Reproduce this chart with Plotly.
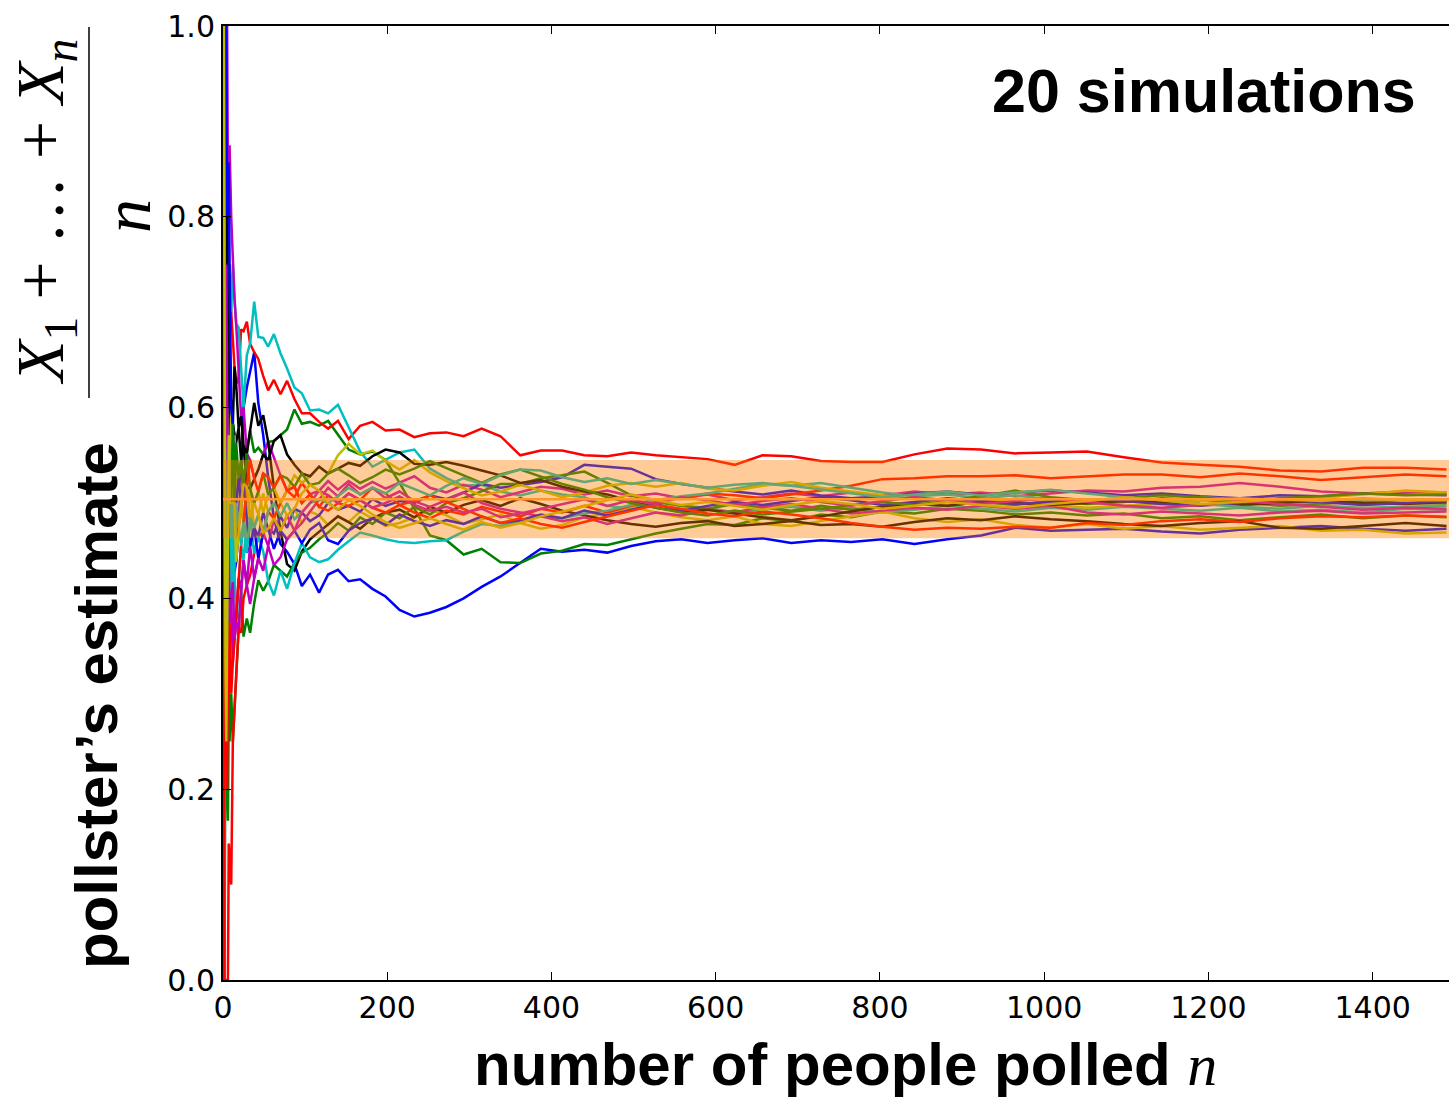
import plotly.graph_objects as go

# Sample sizes at which each running average is recorded
N = [1, 2, 3, 4, 5, 6, 7, 8, 10, 12,
     14, 16, 19, 22, 25, 29, 33, 38, 43, 49,
     55, 62, 70, 78, 87, 96, 106, 117, 128, 140,
     153, 167, 182, 198, 215, 233, 252, 272, 293, 315,
     338, 362, 387, 413, 440, 468, 497, 527, 558, 590,
     623, 657, 692, 728, 765, 803, 842, 882, 923, 965,
     1008, 1052, 1097, 1143, 1190, 1238, 1287, 1337, 1388, 1440,
     1490]

# Running estimate (X1 + ... + Xn) / n for each of the 20 simulated polls
sim_01 = [1.0, 1.0, 1.0, 0.75, 0.8, 0.833, 0.714, 0.625, 0.6, 0.5,
          0.5, 0.438, 0.474, 0.545, 0.6, 0.621, 0.636, 0.658, 0.605, 0.571,
          0.527, 0.484, 0.457, 0.449, 0.436, 0.413, 0.425, 0.406, 0.425, 0.430,
          0.418, 0.420, 0.410, 0.402, 0.388, 0.381, 0.385, 0.391, 0.400, 0.412,
          0.423, 0.437, 0.452, 0.449, 0.451, 0.448, 0.455, 0.460, 0.462, 0.458,
          0.461, 0.463, 0.458, 0.461, 0.459, 0.462, 0.457, 0.462, 0.466, 0.474,
          0.471, 0.472, 0.473, 0.470, 0.468, 0.472, 0.474, 0.476, 0.473, 0.471,
          0.473]
sim_02 = [0.0, 0.5, 0.667, 0.5, 0.6, 0.5, 0.571, 0.5, 0.5, 0.583,
          0.571, 0.5, 0.526, 0.545, 0.52, 0.552, 0.576, 0.553, 0.558, 0.551,
          0.564, 0.565, 0.571, 0.577, 0.598, 0.583, 0.585, 0.581, 0.586, 0.571,
          0.556, 0.551, 0.554, 0.545, 0.521, 0.494, 0.466, 0.461, 0.446, 0.452,
          0.438, 0.437, 0.447, 0.450, 0.457, 0.456, 0.462, 0.468, 0.473, 0.478,
          0.477, 0.484, 0.481, 0.488, 0.485, 0.491, 0.489, 0.494, 0.492, 0.488,
          0.490, 0.487, 0.489, 0.484, 0.486, 0.482, 0.485, 0.488, 0.484, 0.487,
          0.485]
sim_03 = [1.0, 1.0, 0.667, 0.75, 0.8, 0.667, 0.714, 0.75, 0.7, 0.667,
          0.643, 0.625, 0.632, 0.682, 0.68, 0.690, 0.667, 0.658, 0.651, 0.633,
          0.618, 0.629, 0.614, 0.628, 0.609, 0.594, 0.594, 0.585, 0.578, 0.586,
          0.567, 0.581, 0.585, 0.576, 0.577, 0.569, 0.573, 0.574, 0.570, 0.578,
          0.570, 0.550, 0.555, 0.555, 0.550, 0.549, 0.553, 0.550, 0.548, 0.546,
          0.540, 0.550, 0.549, 0.544, 0.543, 0.543, 0.551, 0.557, 0.556, 0.552,
          0.553, 0.554, 0.548, 0.5425, 0.540, 0.538, 0.534, 0.533, 0.537, 0.537,
          0.535]
sim_04 = [1.0, 1.0, 0.667, 0.75, 0.6, 0.667, 0.714, 0.75, 0.7, 0.75,
          0.714, 0.688, 0.684, 0.636, 0.6, 0.655, 0.667, 0.711, 0.674, 0.673,
          0.664, 0.677, 0.657, 0.641, 0.621, 0.615, 0.597, 0.598, 0.594, 0.603,
          0.580, 0.554, 0.538, 0.545, 0.553, 0.556, 0.536, 0.526, 0.518, 0.519,
          0.512, 0.508, 0.513, 0.509, 0.506, 0.497, 0.494, 0.502, 0.497, 0.495,
          0.490, 0.493, 0.496, 0.492, 0.495, 0.490, 0.493, 0.497, 0.494, 0.491,
          0.495, 0.493, 0.496, 0.494, 0.492, 0.495, 0.491, 0.493, 0.490, 0.494,
          0.493]
sim_05 = [1.0, 1.0, 1.0, 1.0, 1.0, 0.833, 0.857, 0.875, 0.8, 0.75,
          0.714, 0.688, 0.632, 0.591, 0.6, 0.552, 0.545, 0.526, 0.535, 0.551,
          0.564, 0.548, 0.529, 0.513, 0.517, 0.5, 0.509, 0.513, 0.523, 0.514,
          0.523, 0.515, 0.522, 0.515, 0.521, 0.528, 0.516, 0.511, 0.519, 0.514,
          0.506, 0.511, 0.517, 0.515, 0.509, 0.513, 0.507, 0.510, 0.505, 0.509,
          0.503, 0.506, 0.510, 0.507, 0.511, 0.508, 0.512, 0.509, 0.511, 0.507,
          0.510, 0.513, 0.512, 0.516, 0.517, 0.521, 0.517, 0.512, 0.510, 0.512,
          0.511]
sim_06 = [0.0, 0.5, 0.333, 0.25, 0.4, 0.333, 0.429, 0.375, 0.4, 0.417,
          0.429, 0.5, 0.474, 0.5, 0.52, 0.483, 0.515, 0.474, 0.488, 0.51,
          0.491, 0.484, 0.5, 0.487, 0.494, 0.479, 0.491, 0.487, 0.477, 0.486,
          0.48, 0.491, 0.484, 0.476, 0.479, 0.485, 0.493, 0.487, 0.478, 0.483,
          0.488, 0.479, 0.473, 0.477, 0.485, 0.489, 0.496, 0.49, 0.485, 0.482,
          0.486, 0.478, 0.476, 0.481, 0.486, 0.491, 0.484, 0.48, 0.483, 0.477,
          0.474, 0.478, 0.473, 0.476, 0.472, 0.474, 0.476, 0.471, 0.472, 0.468,
          0.469]
sim_07 = [1.0, 0.5, 0.667, 0.75, 0.8, 0.667, 0.571, 0.625, 0.6, 0.583,
          0.571, 0.563, 0.579, 0.545, 0.56, 0.552, 0.576, 0.605, 0.581, 0.592,
          0.564, 0.516, 0.471, 0.436, 0.429, 0.449, 0.462, 0.47, 0.477, 0.486,
          0.48, 0.473, 0.484, 0.49, 0.493, 0.485, 0.496, 0.49, 0.498, 0.503,
          0.497, 0.505, 0.499, 0.492, 0.487, 0.482, 0.478, 0.475, 0.479, 0.481,
          0.476, 0.478, 0.481, 0.477, 0.478, 0.475, 0.48, 0.484, 0.482, 0.486,
          0.483, 0.481, 0.478, 0.476, 0.479, 0.481, 0.474, 0.473, 0.476, 0.479,
          0.476]
sim_08 = [0.0, 0.5, 0.667, 0.5, 0.4, 0.5, 0.429, 0.5, 0.4, 0.417,
          0.429, 0.438, 0.474, 0.5, 0.48, 0.448, 0.455, 0.474, 0.465, 0.49,
          0.473, 0.468, 0.486, 0.474, 0.494, 0.49, 0.481, 0.487, 0.5, 0.493,
          0.497, 0.491, 0.504, 0.497, 0.502, 0.5, 0.508, 0.504, 0.511, 0.52,
          0.516, 0.519, 0.522, 0.527, 0.54, 0.538, 0.536, 0.525, 0.52, 0.516,
          0.512, 0.509, 0.513, 0.508, 0.505, 0.507, 0.51, 0.512, 0.509, 0.511,
          0.513, 0.511, 0.508, 0.51, 0.507, 0.505, 0.508, 0.507, 0.51, 0.509,
          0.508]
sim_09 = [0.0, 0.0, 0.333, 0.25, 0.2, 0.167, 0.286, 0.25, 0.3, 0.25,
          0.286, 0.313, 0.368, 0.409, 0.36, 0.379, 0.364, 0.395, 0.419, 0.408,
          0.418, 0.435, 0.429, 0.423, 0.437, 0.448, 0.453, 0.462, 0.469, 0.479,
          0.471, 0.485, 0.478, 0.49, 0.484, 0.496, 0.488, 0.5, 0.505, 0.512,
          0.52, 0.52, 0.526, 0.529, 0.533, 0.521, 0.508, 0.501, 0.497, 0.494,
          0.499, 0.495, 0.492, 0.497, 0.493, 0.496, 0.5, 0.497, 0.501, 0.498,
          0.502, 0.499, 0.501, 0.505, 0.503, 0.501, 0.497, 0.499, 0.502, 0.5,
          0.4995]
sim_10 = [0.0, 0.0, 0.0, 0.0, 0.0, 0.0, 0.143, 0.125, 0.1, 0.25,
          0.286, 0.313, 0.368, 0.364, 0.4, 0.414, 0.424, 0.447, 0.465, 0.469,
          0.491, 0.484, 0.5, 0.513, 0.506, 0.521, 0.509, 0.496, 0.508, 0.5,
          0.51, 0.503, 0.516, 0.51, 0.498, 0.49, 0.484, 0.492, 0.488, 0.496,
          0.491, 0.486, 0.494, 0.49, 0.497, 0.49, 0.497, 0.502, 0.505, 0.51,
          0.508, 0.505, 0.509, 0.513, 0.518, 0.525, 0.526, 0.528, 0.528, 0.529,
          0.526, 0.528, 0.53, 0.53, 0.527, 0.531, 0.528, 0.524, 0.527, 0.53,
          0.528]
sim_11 = [0.0, 0.5, 0.333, 0.5, 0.6, 0.5, 0.571, 0.5, 0.5, 0.417,
          0.429, 0.375, 0.421, 0.455, 0.44, 0.483, 0.485, 0.447, 0.465, 0.449,
          0.418, 0.403, 0.429, 0.41, 0.437, 0.458, 0.443, 0.438, 0.441, 0.451,
          0.46, 0.469, 0.466, 0.462, 0.459, 0.458, 0.46, 0.461, 0.47, 0.478,
          0.476, 0.481, 0.486, 0.484, 0.489, 0.492, 0.498, 0.503, 0.507, 0.51,
          0.515, 0.52, 0.518, 0.521, 0.516, 0.511, 0.507, 0.509, 0.505, 0.508,
          0.504, 0.502, 0.505, 0.503, 0.506, 0.504, 0.503, 0.505, 0.503, 0.504,
          0.503]
sim_12 = [0.0, 0.5, 0.333, 0.25, 0.4, 0.5, 0.429, 0.375, 0.4, 0.333,
          0.357, 0.375, 0.421, 0.409, 0.44, 0.414, 0.455, 0.421, 0.442, 0.469,
          0.455, 0.484, 0.471, 0.487, 0.471, 0.479, 0.491, 0.504, 0.516, 0.507,
          0.52, 0.509, 0.516, 0.505, 0.512, 0.502, 0.496, 0.503, 0.511, 0.5,
          0.494, 0.49, 0.486, 0.481, 0.485, 0.478, 0.484, 0.49, 0.487, 0.493,
          0.49, 0.496, 0.499, 0.494, 0.489, 0.492, 0.495, 0.493, 0.497, 0.494,
          0.497, 0.49, 0.488, 0.491, 0.489, 0.487, 0.49, 0.492, 0.489, 0.49,
          0.491]
sim_13 = [0.0, 0.5, 0.333, 0.5, 0.6, 0.5, 0.429, 0.5, 0.6, 0.5,
          0.571, 0.5, 0.526, 0.5, 0.48, 0.517, 0.485, 0.5, 0.512, 0.49,
          0.509, 0.516, 0.5, 0.513, 0.529, 0.521, 0.528, 0.538, 0.531, 0.55,
          0.562, 0.551, 0.555, 0.544, 0.535, 0.545, 0.532, 0.523, 0.516, 0.508,
          0.512, 0.519, 0.513, 0.506, 0.511, 0.518, 0.521, 0.517, 0.521, 0.515,
          0.513, 0.518, 0.522, 0.516, 0.512, 0.508, 0.504, 0.498, 0.503, 0.501,
          0.498, 0.495, 0.497, 0.499, 0.502, 0.505, 0.503, 0.506, 0.509, 0.513,
          0.511]
sim_14 = [1.0, 1.0, 0.667, 0.5, 0.6, 0.667, 0.714, 0.625, 0.6, 0.583,
          0.643, 0.625, 0.579, 0.591, 0.56, 0.517, 0.515, 0.526, 0.535, 0.551,
          0.545, 0.565, 0.571, 0.551, 0.54, 0.531, 0.528, 0.538, 0.531, 0.536,
          0.542, 0.539, 0.549, 0.556, 0.553, 0.541, 0.54, 0.543, 0.539, 0.534,
          0.529, 0.521, 0.524, 0.517, 0.512, 0.509, 0.502, 0.495, 0.491, 0.493,
          0.489, 0.485, 0.482, 0.486, 0.491, 0.496, 0.499, 0.497, 0.501, 0.5,
          0.498, 0.5, 0.502, 0.501, 0.499, 0.498, 0.5, 0.502, 0.5, 0.499,
          0.501]
sim_15 = [1.0, 1.0, 1.0, 1.0, 0.8, 0.833, 0.857, 0.75, 0.6, 0.583,
          0.5, 0.5, 0.526, 0.5, 0.52, 0.483, 0.455, 0.474, 0.442, 0.469,
          0.473, 0.452, 0.471, 0.462, 0.471, 0.458, 0.472, 0.479, 0.461, 0.457,
          0.471, 0.479, 0.484, 0.477, 0.488, 0.481, 0.476, 0.482, 0.478, 0.486,
          0.479, 0.482, 0.488, 0.484, 0.492, 0.487, 0.493, 0.499, 0.492, 0.497,
          0.501, 0.498, 0.502, 0.506, 0.503, 0.498, 0.501, 0.505, 0.502, 0.499,
          0.501, 0.504, 0.502, 0.499, 0.497, 0.5, 0.503, 0.501, 0.498, 0.5,
          0.502]
sim_16 = [1.0, 0.5, 0.333, 0.5, 0.4, 0.333, 0.429, 0.5, 0.5, 0.583,
          0.5, 0.563, 0.526, 0.545, 0.52, 0.552, 0.515, 0.5, 0.512, 0.531,
          0.509, 0.516, 0.529, 0.526, 0.517, 0.531, 0.519, 0.521, 0.531, 0.536,
          0.529, 0.521, 0.527, 0.535, 0.53, 0.536, 0.544, 0.537, 0.529, 0.521,
          0.53, 0.535, 0.528, 0.52, 0.514, 0.506, 0.5, 0.495, 0.49, 0.487,
          0.492, 0.488, 0.491, 0.494, 0.498, 0.501, 0.498, 0.502, 0.507, 0.513,
          0.506, 0.503, 0.505, 0.508, 0.506, 0.502, 0.505, 0.507, 0.51, 0.508,
          0.509]
sim_17 = [0.0, 0.5, 0.333, 0.25, 0.2, 0.333, 0.286, 0.375, 0.3, 0.333,
          0.357, 0.375, 0.421, 0.455, 0.48, 0.517, 0.545, 0.526, 0.512, 0.531,
          0.527, 0.516, 0.529, 0.513, 0.517, 0.5, 0.509, 0.496, 0.492, 0.5,
          0.497, 0.503, 0.495, 0.49, 0.498, 0.502, 0.508, 0.501, 0.494, 0.486,
          0.479, 0.484, 0.478, 0.474, 0.48, 0.486, 0.492, 0.498, 0.494, 0.489,
          0.486, 0.491, 0.488, 0.484, 0.479, 0.475, 0.472, 0.474, 0.473, 0.475,
          0.474, 0.479, 0.477, 0.481, 0.483, 0.48, 0.484, 0.486, 0.485, 0.487,
          0.4855]
sim_18 = [1.0, 0.5, 0.667, 0.5, 0.4, 0.5, 0.571, 0.5, 0.4, 0.5,
          0.429, 0.5, 0.474, 0.455, 0.48, 0.448, 0.485, 0.474, 0.488, 0.469,
          0.491, 0.5, 0.486, 0.5, 0.483, 0.49, 0.5, 0.504, 0.5, 0.507,
          0.516, 0.509, 0.516, 0.51, 0.521, 0.515, 0.508, 0.518, 0.526, 0.52,
          0.529, 0.535, 0.534, 0.527, 0.522, 0.526, 0.52, 0.524, 0.52, 0.516,
          0.519, 0.521, 0.518, 0.514, 0.51, 0.506, 0.509, 0.512, 0.508, 0.511,
          0.514, 0.51, 0.506, 0.503, 0.499, 0.496, 0.494, 0.497, 0.495, 0.496,
          0.497]
sim_19 = [1.0, 0.5, 0.667, 0.75, 0.6, 0.5, 0.429, 0.375, 0.4, 0.417,
          0.357, 0.375, 0.368, 0.409, 0.44, 0.414, 0.394, 0.421, 0.442, 0.429,
          0.455, 0.435, 0.443, 0.462, 0.471, 0.49, 0.5, 0.513, 0.508, 0.5,
          0.51, 0.503, 0.495, 0.5, 0.507, 0.498, 0.492, 0.496, 0.49, 0.494,
          0.485, 0.489, 0.494, 0.499, 0.504, 0.497, 0.503, 0.499, 0.506, 0.503,
          0.498, 0.502, 0.505, 0.501, 0.497, 0.502, 0.506, 0.503, 0.499, 0.502,
          0.505, 0.501, 0.497, 0.495, 0.498, 0.502, 0.499, 0.496, 0.493, 0.495,
          0.494]
sim_20 = [1.0, 0.5, 0.333, 0.25, 0.4, 0.5, 0.571, 0.5, 0.5, 0.5,
          0.5, 0.438, 0.474, 0.5, 0.52, 0.517, 0.485, 0.5, 0.488, 0.469,
          0.473, 0.484, 0.471, 0.487, 0.494, 0.51, 0.519, 0.513, 0.5, 0.493,
          0.503, 0.497, 0.488, 0.48, 0.474, 0.479, 0.484, 0.478, 0.472, 0.48,
          0.474, 0.479, 0.486, 0.491, 0.497, 0.503, 0.509, 0.503, 0.498, 0.501,
          0.497, 0.493, 0.498, 0.502, 0.499, 0.494, 0.497, 0.501, 0.498, 0.495,
          0.499, 0.502, 0.506, 0.503, 0.499, 0.501, 0.504, 0.502, 0.505, 0.503,
          0.503]

SIMULATIONS = [sim_01, sim_02, sim_03, sim_04, sim_05, sim_06, sim_07,
               sim_08, sim_09, sim_10, sim_11, sim_12, sim_13, sim_14,
               sim_15, sim_16, sim_17, sim_18, sim_19, sim_20]

# Classic b, g, r, c, m, y, k colour cycle
CYCLE = ["#0000FF", "#008000", "#FF0000", "#00BFBF", "#BF00BF", "#BFBF00", "#000000"]

# Confidence band around the true proportion
P_TRUE = 0.504
MARGIN = 0.041

X_TICKS = [0, 200, 400, 600, 800, 1000, 1200, 1400]
Y_TICKS = [0.0, 0.2, 0.4, 0.6, 0.8, 1.0]

X_MAX = 1493

for s in SIMULATIONS:
    assert len(s) == len(N)

fig = go.Figure()
for i, series in enumerate(SIMULATIONS):
    fig.add_trace(go.Scatter(
        x=N, y=series, mode="lines",
        line=dict(color=CYCLE[i % len(CYCLE)], width=2.5),
        hoverinfo="skip", showlegend=False,
    ))

# Translucent band and centre line drawn on top of the traces
fig.add_shape(type="rect", xref="x", yref="y", x0=0, x1=X_MAX,
              y0=P_TRUE - MARGIN, y1=P_TRUE + MARGIN,
              fillcolor="rgba(255,128,0,0.4)", line=dict(width=0), layer="above")
fig.add_shape(type="line", xref="x", yref="y", x0=0, x1=X_MAX,
              y0=P_TRUE, y1=P_TRUE,
              line=dict(color="rgb(255,150,40)", width=2.5), layer="above")

# Plot-area geometry in pixels
L, T, W, H = 223, 26, 1449, 1100
B = 980
PW, PH = W - L, B - T


def px(xp):
    return (xp - L) / PW


def py(yp):
    return (B - yp) / PH


tick_font = dict(family="DejaVu Sans", size=30, color="black")
title_font = dict(family="Liberation Sans", size=60, color="black")
serif_font = dict(family="Liberation Serif", size=68, color="black")

# Fraction: (X1 + ... + Xn) / n, rotated alongside the y title
fig.add_annotation(xref="paper", yref="paper", x=px(45), y=py(212),
                   text="<i>X</i><sub>1</sub> + … + <i>X<sub>n</sub></i>",
                   textangle=-90, showarrow=False, font=serif_font,
                   xanchor="center", yanchor="middle")
fig.add_shape(type="line", xref="paper", yref="paper",
              x0=px(89), x1=px(89), y0=py(27), y1=py(398),
              line=dict(color="black", width=1.5))
fig.add_annotation(xref="paper", yref="paper", x=px(127), y=py(216),
                   text="<i>n</i>", textangle=-90, showarrow=False,
                   font=serif_font, xanchor="center", yanchor="middle")

fig.add_annotation(xref="paper", yref="paper", x=px(96), y=py(706),
                   text="<b>pollster’s estimate</b>", textangle=-90,
                   showarrow=False, font=title_font,
                   xanchor="center", yanchor="middle")

fig.add_annotation(xref="paper", yref="paper", x=px(845), y=py(1064),
                   text="<b>number of people polled</b> "
                        "<span style=\"font-family:'Liberation Serif'\"><i>n</i></span>",
                   showarrow=False, font=title_font,
                   xanchor="center", yanchor="middle")

fig.add_annotation(xref="paper", yref="paper", x=px(1204), y=py(91),
                   text="<b>20 simulations</b>", showarrow=False,
                   font=dict(family="Liberation Sans", size=61, color="black"),
                   xanchor="center", yanchor="middle")

fig.update_layout(
    width=W, height=H,
    margin=dict(l=L, r=0, t=T, b=H - B, pad=0),
    paper_bgcolor="white", plot_bgcolor="white",
    xaxis=dict(range=[0, X_MAX], tickvals=X_TICKS, ticks="inside", ticklen=8,
               tickwidth=1, tickcolor="black", showline=True, linewidth=2,
               linecolor="black", mirror="ticks", showgrid=False,
               zeroline=False, tickfont=tick_font),
    yaxis=dict(range=[0, 1], tickvals=Y_TICKS, tickformat=".1f",
               ticks="inside", ticklen=8, tickwidth=1, tickcolor="black",
               showline=True, linewidth=2, linecolor="black", mirror=False,
               showgrid=False, zeroline=False, tickfont=tick_font),
    yaxis2=dict(range=[0, 1], tickvals=Y_TICKS, overlaying="y", side="right",
                ticks="inside", ticklen=8, tickwidth=1, tickcolor="black",
                showticklabels=False, showline=False, showgrid=False,
                zeroline=False),
)

fig.write_html("out.html")
